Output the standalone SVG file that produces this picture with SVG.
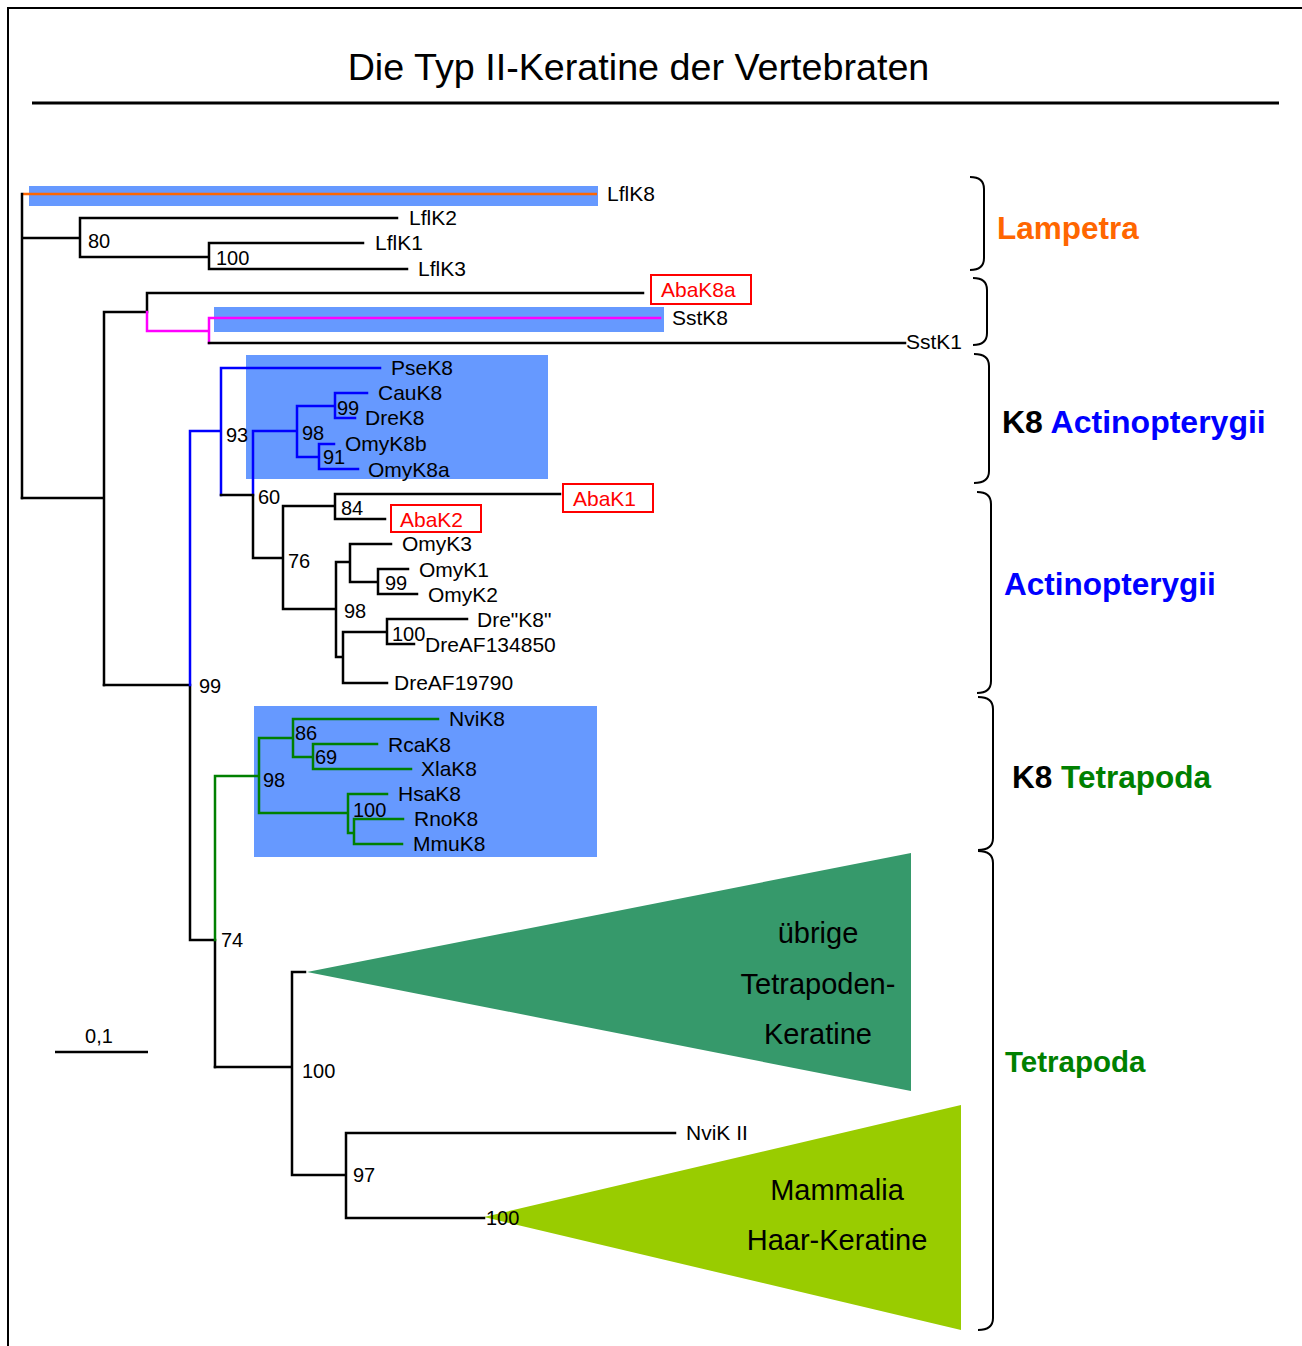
<svg xmlns="http://www.w3.org/2000/svg" width="1302" height="1346" viewBox="0 0 1302 1346">
<style>
text{font-family:"Liberation Sans",Arial,sans-serif;fill:#000}
.lf{font-size:21px}
.bs{font-size:20px}
.big{font-size:29px}
.grp{font-size:31.5px;font-weight:bold}
.red{fill:#FF0000}
.box{fill:none;stroke:#FF0000;stroke-width:2}
.hl{fill:#6699FF}
.k{fill:none;stroke:#000;stroke-width:2.5;stroke-linecap:square}
.b{fill:none;stroke:#0000FF;stroke-width:2.5;stroke-linecap:square}
.g{fill:none;stroke:#008000;stroke-width:2.5;stroke-linecap:square}
.m{fill:none;stroke:#FF00FF;stroke-width:2.5;stroke-linecap:square}
.o{fill:none;stroke:#FF6600;stroke-width:2.5}
.br{fill:none;stroke:#000;stroke-width:2}
</style>
<rect x="0" y="0" width="1302" height="1346" fill="#fff"/>
<path d="M8,1346 V8 H1302" fill="none" stroke="#000" stroke-width="2"/>
<g id="title">
<text x="638.5" y="80" font-size="37.7" text-anchor="middle">Die Typ II-Keratine der Vertebraten</text>
<path d="M32,103 H1279" stroke="#000" stroke-width="3"/>
</g>
<g id="highlights">
<rect class="hl" x="29" y="186" width="569" height="20"/>
<rect class="hl" x="214" y="307" width="450" height="25"/>
<rect class="hl" x="246" y="355" width="302" height="124"/>
<rect class="hl" x="254" y="706" width="343" height="151"/>
</g>
<g id="clades">
<polygon points="307,972 911,853 911,1091" fill="#36996B"/>
<polygon points="484,1217 961,1105 961,1330" fill="#99CC00"/>
</g>
<g id="connectors">
<path class="o" d="M23,194 H597"/>
<path class="k" d="M22,194 V498 M22,238 H80 M80,218 V257 M80,218 H397 M80,257 H209 M209,243 V269 M209,243 H363 M209,269 H407"/>
<path class="k" d="M22,498 H104 M104,312 V685 M104,312 H147 M147,293 V312 M147,293 H643"/>
<path class="m" d="M147,312 V331 H209 M209,318 V343 M209,318 H660"/>
<path class="k" d="M209,343 H905"/>
<path class="k" d="M104,685 H190 M190,685 V940 M190,940 H215 M215,940 V1067"/>
<path class="b" d="M190,685 V431 H221 M221,368 V495 M221,368 H380 M253,431 V495 M253,431 H297 M297,406 V457 M297,406 H335 M335,393 V418 M335,393 H367 M335,418 H355 M297,457 H319 M319,444 V469 M319,444 H334 M319,469 H358"/>
<path class="k" d="M221,495 H253 M253,495 V558 H283 M283,506 V609 M283,506 H335 M335,494 V519 M335,494 H560 M335,519 H385 M283,609 H336 M336,562 V657 M336,562 H350 M350,544 V582 M350,544 H391 M350,582 H378 M378,569 V594 M378,569 H408 M378,594 H417 M336,657 H343 M343,632 V683 M343,632 H387 M387,619 V644 M387,619 H467 M387,644 H414 M343,683 H387"/>
<path class="g" d="M215,940 V776 H259 M259,738 V813 M259,738 H293 M293,719 V757 M293,719 H438 M293,757 H313 M313,744 V769 M313,744 H377 M313,769 H411 M259,813 H348 M348,794 V833 M348,794 H387 M348,833 H354 M354,819 V844 M354,819 H403 M354,844 H402"/>
<path class="k" d="M215,1067 H292 M292,972 V1175 M292,972 H305 M292,1175 H346 M346,1133 V1218 M346,1133 H675 M346,1218 H484"/>
</g>
<g id="bootstrap">
<text class="bs" x="88" y="248">80</text>
<text class="bs" x="216" y="265">100</text>
<text class="bs" x="226" y="442">93</text>
<text class="bs" x="337" y="415">99</text>
<text class="bs" x="302" y="440">98</text>
<text class="bs" x="323" y="464">91</text>
<text class="bs" x="258" y="504">60</text>
<text class="bs" x="341" y="515">84</text>
<text class="bs" x="288" y="568">76</text>
<text class="bs" x="385" y="590">99</text>
<text class="bs" x="344" y="618">98</text>
<text class="bs" x="392" y="641">100</text>
<text class="bs" x="199" y="693">99</text>
<text class="bs" x="295" y="740">86</text>
<text class="bs" x="315" y="764">69</text>
<text class="bs" x="263" y="787">98</text>
<text class="bs" x="353" y="817">100</text>
<text class="bs" x="221" y="947">74</text>
<text class="bs" x="302" y="1078">100</text>
<text class="bs" x="353" y="1182">97</text>
<text class="bs" x="486" y="1225">100</text>
</g>
<g id="n-LflK8"><text class="lf" x="607" y="201">LflK8</text></g>
<g id="n-LflK2"><text class="lf" x="409" y="225">LflK2</text></g>
<g id="n-LflK1"><text class="lf" x="375" y="250">LflK1</text></g>
<g id="n-LflK3"><text class="lf" x="418" y="276">LflK3</text></g>
<g id="n-AbaK8a"><rect class="box" x="651" y="275" width="100" height="29"/><text class="lf red" x="661" y="297">AbaK8a</text></g>
<g id="n-SstK8"><text class="lf" x="672" y="325">SstK8</text></g>
<g id="n-SstK1"><text class="lf" x="906" y="349">SstK1</text></g>
<g id="n-PseK8"><text class="lf" x="391" y="375">PseK8</text></g>
<g id="n-CauK8"><text class="lf" x="378" y="400">CauK8</text></g>
<g id="n-DreK8"><text class="lf" x="365" y="425">DreK8</text></g>
<g id="n-OmyK8b"><text class="lf" x="345" y="451">OmyK8b</text></g>
<g id="n-OmyK8a"><text class="lf" x="368" y="477">OmyK8a</text></g>
<g id="n-AbaK1"><rect class="box" x="563" y="484" width="90" height="28"/><text class="lf red" x="573" y="506">AbaK1</text></g>
<g id="n-AbaK2"><rect class="box" x="391" y="505" width="90" height="27"/><text class="lf red" x="400" y="527">AbaK2</text></g>
<g id="n-OmyK3"><text class="lf" x="402" y="551">OmyK3</text></g>
<g id="n-OmyK1"><text class="lf" x="419" y="577">OmyK1</text></g>
<g id="n-OmyK2"><text class="lf" x="428" y="602">OmyK2</text></g>
<g id="n-DreK8q"><text class="lf" x="477" y="627">Dre"K8"</text></g>
<g id="n-DreAF134850"><text class="lf" x="425" y="652">DreAF134850</text></g>
<g id="n-DreAF19790"><text class="lf" x="394" y="690">DreAF19790</text></g>
<g id="n-NviK8"><text class="lf" x="449" y="726">NviK8</text></g>
<g id="n-RcaK8"><text class="lf" x="388" y="752">RcaK8</text></g>
<g id="n-XlaK8"><text class="lf" x="421" y="776">XlaK8</text></g>
<g id="n-HsaK8"><text class="lf" x="398" y="801">HsaK8</text></g>
<g id="n-RnoK8"><text class="lf" x="414" y="826">RnoK8</text></g>
<g id="n-MmuK8"><text class="lf" x="413" y="851">MmuK8</text></g>
<g id="n-NviKII"><text class="lf" x="686" y="1140">NviK II</text></g>
<g id="n-uebrige">
<text class="big" x="818" y="943" text-anchor="middle">übrige</text>
<text class="big" x="818" y="994" text-anchor="middle">Tetrapoden-</text>
<text class="big" x="818" y="1044" text-anchor="middle">Keratine</text>
</g>
<g id="n-mammalia">
<text class="big" x="837" y="1200" text-anchor="middle">Mammalia</text>
<text class="big" x="837" y="1250" text-anchor="middle">Haar-Keratine</text>
</g>
<g id="scale">
<path d="M55,1052 H148" stroke="#000" stroke-width="2.5"/>
<text class="bs" x="99" y="1043" text-anchor="middle">0,1</text>
</g>
<g id="braces">
<path class="br" d="M970,177 Q984,177 984,189 V258 Q984,270 970,270"/>
<path class="br" d="M973,278 Q987,278 987,290 V333 Q987,345 973,345"/>
<path class="br" d="M974,354 Q989,354 989,366 V471 Q989,483 974,483"/>
<path class="br" d="M977,492 Q991,492 991,504 V681 Q991,693 977,693"/>
<path class="br" d="M978,697 Q993,697 993,709 V838 Q993,850 978,850"/>
<path class="br" d="M978,851 Q993,851 993,863 V1318 Q993,1330 978,1330"/>
</g>
<g id="group-labels">
<text class="grp" x="997" y="239" style="fill:#FF6600">Lampetra</text>
<text class="grp" x="1002" y="433" style="font-size:32px">K8 <tspan style="fill:#0000FF">Actinopterygii</tspan></text>
<text class="grp" x="1004" y="595" style="fill:#0000FF">Actinopterygii</text>
<text class="grp" x="1012" y="788">K8 <tspan style="fill:#008000">Tetrapoda</tspan></text>
<text class="grp" x="1005" y="1072" style="fill:#008000;font-size:29.5px">Tetrapoda</text>
</g>
</svg>
